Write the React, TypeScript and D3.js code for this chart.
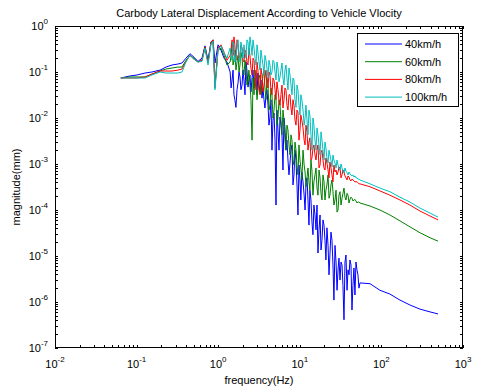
import React from 'react';
import * as d3 from 'd3';

// Frequencies (Hz) shared by all four spectra
const freqHz = [
  0.064, 0.083, 0.101, 0.127, 0.154, 0.194, 0.229, 0.272, 0.321, 0.36, 0.403, 0.451, 0.505, 0.565, 0.633, 0.689, 0.75, 0.817, 0.864, 0.914, 0.995, 1.08, 1.18, 1.28,
  1.40, 1.44, 1.48, 1.52, 1.56, 1.60, 1.65, 1.70, 1.75, 1.80,
  1.85, 1.90, 1.96, 2.01, 2.07, 2.13, 2.19, 2.25, 2.32, 2.38,
  2.45, 2.52, 2.60, 2.67, 2.75, 2.83, 2.91, 2.99, 3.07, 3.16,
  3.25, 3.34, 3.44, 3.54, 3.64, 3.74, 3.85, 3.96, 4.08, 4.19,
  4.31, 4.43, 4.56, 4.69, 4.83, 4.97, 5.11, 5.25, 5.40, 5.56,
  5.72, 5.88, 6.05, 6.22, 6.40, 6.58, 6.77, 6.96, 7.16, 7.37,
  7.58, 7.80, 8.02, 8.25, 8.49, 8.73, 8.98, 9.24, 9.50, 9.77,
  10.05, 10.3, 10.6, 10.95, 11.3, 11.6, 11.9, 12.25, 12.6, 12.95,
  13.3, 13.7, 14.1, 14.5, 14.9, 15.35, 15.8, 16.25, 16.7, 17.2,
  17.7, 18.2, 18.7, 19.25, 19.8, 20.35, 20.9, 21.5, 22.2, 22.8,
  23.4, 24.1, 24.8, 25.5, 26.2, 27.0, 27.8, 28.6, 29.4, 30.2,
  31.1, 32.0, 32.9, 33.8, 34.8, 35.8, 36.8, 37.9, 39.0, 40.1,
  41.2, 42.4, 43.6, 44.8, 46.1, 47.4, 48.8, 50.2, 51.6, 53.1,
  54.6,
  72.5, 96, 127, 169, 224, 297, 394, 494,
];

// Magnitude (mm) for 40 km/h
const mag40 = [
  0.074, 0.082, 0.086, 0.095, 0.1, 0.11, 0.128, 0.142, 0.149, 0.157, 0.2, 0.25, 0.21, 0.17, 0.2, 0.37, 0.18, 0.45, 0.5, 0.157, 0.39, 0.3, 0.2, 0.165,
  0.1, 0.045, 0.067, 0.11, 0.032, 0.025, 0.017, 0.041, 0.058, 0.1,
  0.078, 0.041, 0.052, 0.11, 0.067, 0.032, 0.165, 0.11, 0.047, 0.067,
  0.086, 0.037, 0.074, 0.11, 0.045, 0.074, 0.067, 0.032, 0.095, 0.052,
  0.037, 0.067, 0.027, 0.045, 0.025, 0.0165, 0.032, 0.041, 0.019, 0.007,
  0.0105, 0.025, 0.002, 0.009, 0.0128, 0.0033, 1.28e-4, 0.0149, 0.0055, 0.002,
  0.0105, 0.007, 0.0043, 7.4e-4, 0.01, 0.0061, 0.002, 0.0033, 0.00122, 5.8e-4,
  0.00105, 0.002, 0.0026, 3.5e-4, 5.8e-4, 0.002, 0.00122, 3.5e-4, 7.8e-5, 9.5e-4,
  4.5e-4, 1.65e-4, 6.7e-4, 4.1e-4, 2.1e-4, 1.0e-4, 3.5e-4, 5.0e-4, 1.65e-4, 4.7e-5,
  2.7e-4, 1.65e-4, 5.5e-5, 2.9e-5, 1.28e-4, 7.8e-5, 3.7e-5, 1.28e-4, 1.16e-5, 3.7e-5,
  7.8e-5, 1.35e-5, 2.2e-5, 6.1e-5, 4.7e-5, 2.2e-5, 8.2e-6, 4.1e-5, 1.7e-5, 3.9e-6,
  1.05e-5, 3.3e-5, 2.2e-5, 6.4e-6, 1.1e-6, 1.7e-5, 7.4e-6, 1.8e-6, 5.0e-6, 9.0e-6,
  3.0e-6, 7.4e-6, 6.4e-6, 2.3e-6, 4.1e-7, 7.4e-6, 1.05e-5, 1.8e-6, 5.0e-6, 3.9e-6,
  8.2e-6, 6.4e-6, 6.7e-7, 2.3e-6, 5.5e-6, 1.42e-6, 7.4e-6, 5.0e-6, 3.9e-6, 2.0e-6,
  2.6e-6,
  2.5e-6, 1.8e-6, 1.49e-6, 1.1e-6, 8.6e-7, 7.0e-7, 6.1e-7, 5.5e-7,
];

// Magnitude (mm) for 60 km/h
const mag60 = [
  0.074, 0.078, 0.078, 0.078, 0.09, 0.105, 0.116, 0.122, 0.128, 0.128, 0.18, 0.23, 0.2, 0.165, 0.18, 0.35, 0.165, 0.43, 0.47, 0.052, 0.3, 0.33, 0.23, 0.142,
  0.165, 0.23, 0.39, 0.142, 0.18, 0.3, 0.11, 0.165, 0.23, 0.1,
  0.142, 0.27, 0.2, 0.11, 0.086, 0.18, 0.122, 0.052, 0.067, 0.11,
  0.052, 0.025, 0.0033, 0.074, 0.032, 0.11, 0.067, 0.025, 0.041, 0.074,
  0.086, 0.032, 0.052, 0.086, 0.11, 0.045, 0.025, 0.074, 0.052, 0.0149,
  0.019, 0.045, 0.032, 0.01, 0.0149, 0.032, 0.025, 0.007, 0.01, 0.025,
  0.019, 0.009, 0.0043, 0.0149, 0.009, 0.0033, 0.002, 0.007, 0.0055, 0.0026,
  0.00157, 0.0043, 0.0033, 0.00122, 9.5e-4, 0.003, 0.002, 9.5e-4, 5.8e-4, 0.0026,
  0.00122, 8.2e-4, 4.5e-4, 0.002, 9.5e-4, 6.7e-4, 3.2e-4, 5.0e-4, 8.2e-4, 4.1e-4,
  2.7e-4, 0.00122, 7.0e-4, 2.1e-4, 4.1e-4, 5.8e-4, 8.2e-4, 3.0e-4, 2.1e-4, 7.4e-4,
  5.0e-4, 2.3e-4, 1.65e-4, 5.8e-4, 4.1e-4, 1.65e-4, 2.7e-4, 3.5e-4, 5.8e-4, 1.8e-4,
  2.1e-4, 3.5e-4, 4.5e-4, 2.5e-4, 1.28e-4, 1.65e-4, 2.7e-4, 9.0e-5, 1.0e-4, 2.1e-4,
  2.5e-4, 1.28e-4, 1.8e-4, 2.3e-4, 3.0e-4, 1.9e-4, 1.65e-4, 2.3e-4, 2.1e-4, 1.42e-4,
  1.7e-4, 1.9e-4, 1.8e-4, 1.57e-4, 1.65e-4, 1.7e-4, 1.57e-4, 1.42e-4, 1.49e-4, 1.49e-4,
  1.42e-4,
  1.22e-4, 1.0e-4, 7.8e-5, 5.8e-5, 4.3e-5, 3.2e-5, 2.5e-5, 2.1e-5,
];

// Magnitude (mm) for 80 km/h
const mag80 = [
  0.074, 0.074, 0.074, 0.078, 0.09, 0.105, 0.105, 0.105, 0.11, 0.116, 0.17, 0.23, 0.19, 0.165, 0.18, 0.35, 0.157, 0.45, 0.5, 0.045, 0.33, 0.39, 0.27, 0.18,
  0.23, 0.33, 0.5, 0.23, 0.58, 0.39, 0.18, 0.5, 0.39, 0.2,
  0.23, 0.39, 0.33, 0.18, 0.165, 0.3, 0.27, 0.165, 0.142, 0.33,
  0.23, 0.122, 0.086, 0.2, 0.18, 0.067, 0.041, 0.165, 0.11, 0.045,
  0.032, 0.122, 0.086, 0.037, 0.052, 0.074, 0.11, 0.052, 0.045, 0.1,
  0.086, 0.041, 0.032, 0.074, 0.067, 0.041, 0.025, 0.061, 0.041, 0.025,
  0.019, 0.032, 0.052, 0.0165, 0.025, 0.045, 0.041, 0.019, 0.0149, 0.032,
  0.032, 0.0165, 0.0116, 0.025, 0.019, 0.009, 0.007, 0.0149, 0.0135, 0.0033,
  0.0055, 0.0116, 0.009, 0.0061, 0.0033, 0.0026, 0.007, 0.005, 0.002, 0.003,
  0.0037, 0.00122, 0.00135, 0.0022, 0.0026, 0.00157, 0.00122, 0.002, 0.0026, 8.2e-4,
  9.5e-4, 0.0018, 0.002, 0.00122, 8.2e-4, 7.4e-4, 0.00135, 0.00105, 7.4e-4, 5.0e-4,
  0.0011, 8.2e-4, 5.8e-4, 4.1e-4, 9.5e-4, 6.7e-4, 7.4e-4, 5.8e-4, 6.7e-4, 8.6e-4,
  8.2e-4, 5.0e-4, 5.8e-4, 7.4e-4, 6.7e-4, 5.5e-4, 5.0e-4, 4.5e-4, 5.5e-4, 5.2e-4,
  4.5e-4, 4.3e-4, 4.7e-4, 4.5e-4, 4.3e-4, 4.1e-4, 4.1e-4, 4.1e-4, 3.9e-4, 3.7e-4,
  3.7e-4,
  3.2e-4, 2.6e-4, 2.1e-4, 1.65e-4, 1.28e-4, 9.5e-5, 7.4e-5, 6.1e-5,
];

// Magnitude (mm) for 100 km/h
const mag100 = [
  0.074, 0.074, 0.074, 0.074, 0.086, 0.1, 0.095, 0.095, 0.095, 0.1, 0.165, 0.23, 0.19, 0.165, 0.17, 0.33, 0.142, 0.41, 0.47, 0.041, 0.3, 0.37, 0.26, 0.2,
  0.33, 0.23, 0.18, 0.45, 0.39, 0.165, 0.23, 0.33, 0.5, 0.23,
  0.165, 0.45, 0.3, 0.2, 0.39, 0.27, 0.2, 0.5, 0.45, 0.23,
  0.58, 0.39, 0.23, 0.5, 0.33, 0.2, 0.142, 0.39, 0.27, 0.165,
  0.11, 0.3, 0.2, 0.142, 0.086, 0.23, 0.18, 0.122, 0.074, 0.18,
  0.142, 0.086, 0.1, 0.18, 0.165, 0.1, 0.067, 0.165, 0.122, 0.061,
  0.078, 0.11, 0.157, 0.074, 0.052, 0.11, 0.142, 0.074, 0.041, 0.122,
  0.086, 0.052, 0.032, 0.074, 0.067, 0.025, 0.017, 0.052, 0.041, 0.019,
  0.0116, 0.032, 0.025, 0.0149, 0.007, 0.01, 0.019, 0.009, 0.0043, 0.0149,
  0.0116, 0.0043, 0.002, 0.01, 0.007, 0.0033, 0.002, 0.0061, 0.0043, 0.0026,
  0.00157, 0.005, 0.0033, 0.002, 0.00122, 0.003, 0.0022, 0.00135, 0.00105, 0.002,
  0.00157, 0.00122, 8.6e-4, 0.00157, 0.00122, 0.00105, 8.2e-4, 0.00122, 9.5e-4, 8.2e-4,
  7.4e-4, 0.001, 8.2e-4, 7.0e-4, 6.4e-4, 8.2e-4, 7.0e-4, 6.4e-4, 5.8e-4, 6.7e-4,
  6.1e-4, 5.8e-4, 5.5e-4, 5.8e-4, 5.2e-4, 5.5e-4, 5.0e-4, 5.0e-4, 4.7e-4, 4.7e-4,
  4.5e-4,
  3.7e-4, 3.0e-4, 2.5e-4, 1.9e-4, 1.49e-4, 1.1e-4, 8.6e-5, 7.0e-5,
];

const seriesNames = ['40km/h', '60km/h', '80km/h', '100km/h'];
const seriesValues = [mag40, mag60, mag80, mag100];
const seriesColors = ['#0000ff', '#008000', '#ff0000', '#00bfbf'];

const xTickExponents = [-2, -1, 0, 1, 2, 3];
const yTickExponents = [-7, -6, -5, -4, -3, -2, -1, 0];

const titleText = 'Carbody Lateral Displacement According to Vehicle Vlocity';
const xLabelText = 'frequency(Hz)';
const yLabelText = 'magnitude(mm)';

const FONT = '"Liberation Sans", Arial, Helvetica, sans-serif';

export default function App() {
  const W = 478;
  const H = 389;
  const L = 55, R = 463, T = 26, B = 348;

  const x = d3.scaleLog().domain([1e-2, 1e3]).range([L, R]);
  const y = d3.scaleLog().domain([1e-7, 1]).range([B, T]);

  const line = d3
    .line<[number, number]>()
    .x((d) => x(d[0]))
    .y((d) => y(d[1]));

  const xTicks: number[] = [];
  for (let e = -2; e < 3; e++) for (let k = 1; k <= 9; k++) xTicks.push(k * Math.pow(10, e));
  xTicks.push(1e3);
  const yTicks: number[] = [];
  for (let e = -7; e < 0; e++) for (let k = 1; k <= 9; k++) yTicks.push(k * Math.pow(10, e));
  yTicks.push(1);

  const tickLen = 3;
  const px = (v: number) => Math.round(v) + 0.5;

  return (
    <svg
      width={W}
      height={H}
      viewBox={`0 0 ${W} ${H}`}
      style={{ position: 'absolute', left: 0, top: 0, display: 'block', background: '#fff' }}
      fontFamily={FONT}
    >
      <rect x={0} y={0} width={W} height={H} fill="#fff" />
      <defs>
        <clipPath id="plotClip">
          <rect x={L} y={T} width={R - L} height={B - T} />
        </clipPath>
      </defs>

      <g clipPath="url(#plotClip)">
        {seriesValues.map((vals, i) => (
          <path
            key={seriesNames[i]}
            d={line(d3.zip(freqHz, vals) as [number, number][]) || ''}
            fill="none"
            stroke={seriesColors[i]}
            strokeWidth={1}
            strokeLinejoin="round"
          />
        ))}
      </g>

      <g stroke="#000" strokeWidth={1} shapeRendering="crispEdges">
        {xTicks.map((v, i) => {
          const xx = px(x(v));
          return (
            <g key={'xt' + i}>
              <line x1={xx} x2={xx} y1={B} y2={B - tickLen} />
              <line x1={xx} x2={xx} y1={T} y2={T + tickLen} />
            </g>
          );
        })}
        {yTicks.map((v, i) => {
          const yy = px(y(v));
          return (
            <g key={'yt' + i}>
              <line x1={L} x2={L + tickLen} y1={yy} y2={yy} />
              <line x1={R} x2={R - tickLen} y1={yy} y2={yy} />
            </g>
          );
        })}
        <rect x={L + 0.5} y={T + 0.5} width={R - L - 1} height={B - T - 1} fill="none" />
      </g>

      <g fontSize={11} fill="#000">
        {xTickExponents.map((e) => (
          <text key={'xl' + e} x={x(Math.pow(10, e))} y={368} textAnchor="middle">
            10<tspan dy={-6} fontSize={8}>{e}</tspan>
          </text>
        ))}
        {yTickExponents.map((e) => (
          <text key={'yl' + e} x={48} y={y(Math.pow(10, e)) + 4} textAnchor="end">
            10<tspan dy={-6} fontSize={8}>{e}</tspan>
          </text>
        ))}
      </g>

      <text x={(L + R) / 2} y={17} textAnchor="middle" fontSize={11}>{titleText}</text>
      <text x={(L + R) / 2} y={384} textAnchor="middle" fontSize={11}>{xLabelText}</text>
      <text transform={`translate(20, ${(T + B) / 2}) rotate(-90)`} textAnchor="middle" fontSize={11}>{yLabelText}</text>

      <g>
        <rect x={357.5} y={33.5} width={101} height={73} fill="#fff" stroke="#000" strokeWidth={1} shapeRendering="crispEdges" />
        {seriesNames.map((name, i) => {
          const ly = 44 + i * 17.7;
          return (
            <g key={'lg' + name}>
              <line x1={365} x2={402} y1={ly} y2={ly} stroke={seriesColors[i]} strokeWidth={1} />
              <text x={405} y={ly + 4} fontSize={11}>{name}</text>
            </g>
          );
        })}
      </g>
    </svg>
  );
}
